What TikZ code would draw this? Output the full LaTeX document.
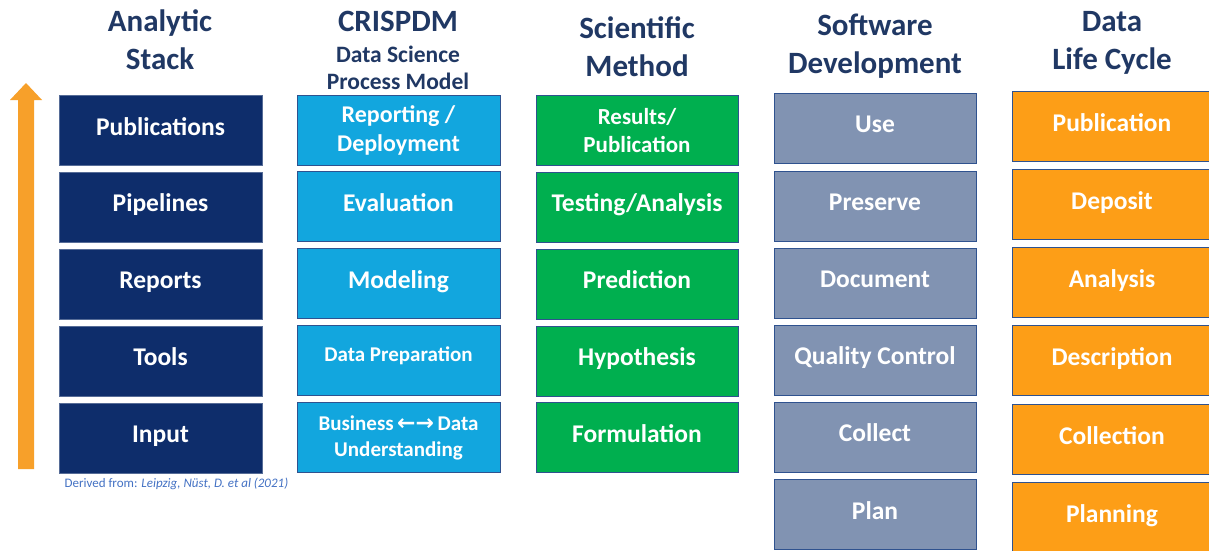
\documentclass[tikz,border=0pt]{standalone}
\usepackage{fontspec}
\setmainfont{Carlito}
\newfontfamily\arrowfont{DejaVu Sans}
\definecolor{navy}{HTML}{0E2D6B}
\definecolor{hdr}{HTML}{203864}
\definecolor{crisp}{HTML}{12A6DE}
\definecolor{sci}{HTML}{00AF4F}
\definecolor{soft}{HTML}{8193B2}
\definecolor{life}{HTML}{FD9E17}
\definecolor{arr}{HTML}{F7A02A}
\definecolor{edge}{HTML}{2F528F}
\definecolor{note}{HTML}{4472C4}
\tikzset{
  box/.style={draw=edge, line width=1pt, minimum height=70pt, inner sep=2pt,
    text=white, font=\bfseries\fontsize{25.5}{28}\selectfont, align=center},
  oneline/.style={text height=18pt, text depth=9pt},
  stackbox/.style={box, fill=navy, draw=navy!70!white, minimum width=203pt},
  crispbox/.style={box, fill=crisp, minimum width=203pt},
  scibox/.style={box, fill=sci, minimum width=202pt},
  softbox/.style={box, fill=soft, minimum width=202pt},
  lifebox/.style={box, fill=life, minimum width=200pt},
  head/.style={text=hdr, font=\bfseries\fontsize{31}{38}\selectfont, align=center},
  subhead/.style={text=hdr, font=\bfseries\fontsize{23.5}{27}\selectfont, align=center},
}
\begin{document}
\begin{tikzpicture}[x=1pt,y=-1pt]
\useasboundingbox[fill=white] (0,0) rectangle (1209,551);
% arrow
\fill[arr] (18,469) -- (34,469) -- (34,100) -- (42,100) -- (26,83) -- (10,100) -- (18,100) -- cycle;
% headers
\node[head] (h1) at (160,40) {Analytic\\Stack};
\node[head] (h2) at (398,21) {CRISPDM};
\node[subhead] (h2b) at (398,68) {Data Science\\Process Model};
\node[head] (h3) at (637,47) {Scientific\\Method};
\node[head] (h4) at (875,46) {Software\\Development};
\node[head] (h5) at (1112,43) {Data\\Life Cycle};
% column 1
\node[stackbox, oneline] (a1) at (160.5,130.5) {Publications};
\node[stackbox, oneline] (a2) at (160.5,207) {Pipelines};
\node[stackbox, oneline] (a3) at (160.5,284) {Reports};
\node[stackbox, oneline] (a4) at (160.5,361) {Tools};
\node[stackbox, oneline] (a5) at (160.5,438) {Input};
\node[anchor=west, text=note, font=\fontsize{13}{15}\selectfont] (src) at (61,484) {Derived from: \textit{Leipzig, Nüst, D. et al (2021)}};
% column 2
\node[crispbox, font=\bfseries\fontsize{24}{29}\selectfont] (b1) at (398.5,130) {Reporting /\\Deployment};
\node[crispbox, oneline] (b2) at (398.5,206.5) {Evaluation};
\node[crispbox, oneline] (b3) at (398.5,283.5) {Modeling};
\node[crispbox, font=\bfseries\fontsize{21}{24}\selectfont, text height=14pt, text depth=12pt] (b4) at (398.5,360.5) {Data Preparation};
\node[crispbox, font=\bfseries\fontsize{21}{26}\selectfont] (b5) at (398.5,437.5) {Business\,{\arrowfont\fontsize{22}{24}\selectfont\bfseries ←→}\,Data\\Understanding};
% column 3
\node[scibox, font=\bfseries\fontsize{23}{28}\selectfont] (c1) at (637,130.5) {Results/\\Publication};
\node[scibox, oneline] (c2) at (637,207) {Testing/Analysis};
\node[scibox, oneline] (c3) at (637,284) {Prediction};
\node[scibox, oneline] (c4) at (637,361) {Hypothesis};
\node[scibox, oneline] (c5) at (637,437.5) {Formulation};
% column 4
\node[softbox, oneline] (d1) at (875,128) {Use};
\node[softbox, oneline] (d2) at (875,206) {Preserve};
\node[softbox, oneline] (d3) at (875,283) {Document};
\node[softbox, oneline] (d4) at (875,360) {Quality Control};
\node[softbox, oneline] (d5) at (875,437) {Collect};
\node[softbox, oneline] (d6) at (875,514.5) {Plan};
% column 5
\node[lifebox, oneline] (e1) at (1112,126.5) {Publication};
\node[lifebox, oneline] (e2) at (1112,204.5) {Deposit};
\node[lifebox, oneline] (e3) at (1112,282.5) {Analysis};
\node[lifebox, oneline] (e4) at (1112,360.5) {Description};
\node[lifebox, oneline] (e5) at (1112,439.5) {Collection};
\node[lifebox, oneline] (e6) at (1112,517.5) {Planning};
\end{tikzpicture}
\end{document}
